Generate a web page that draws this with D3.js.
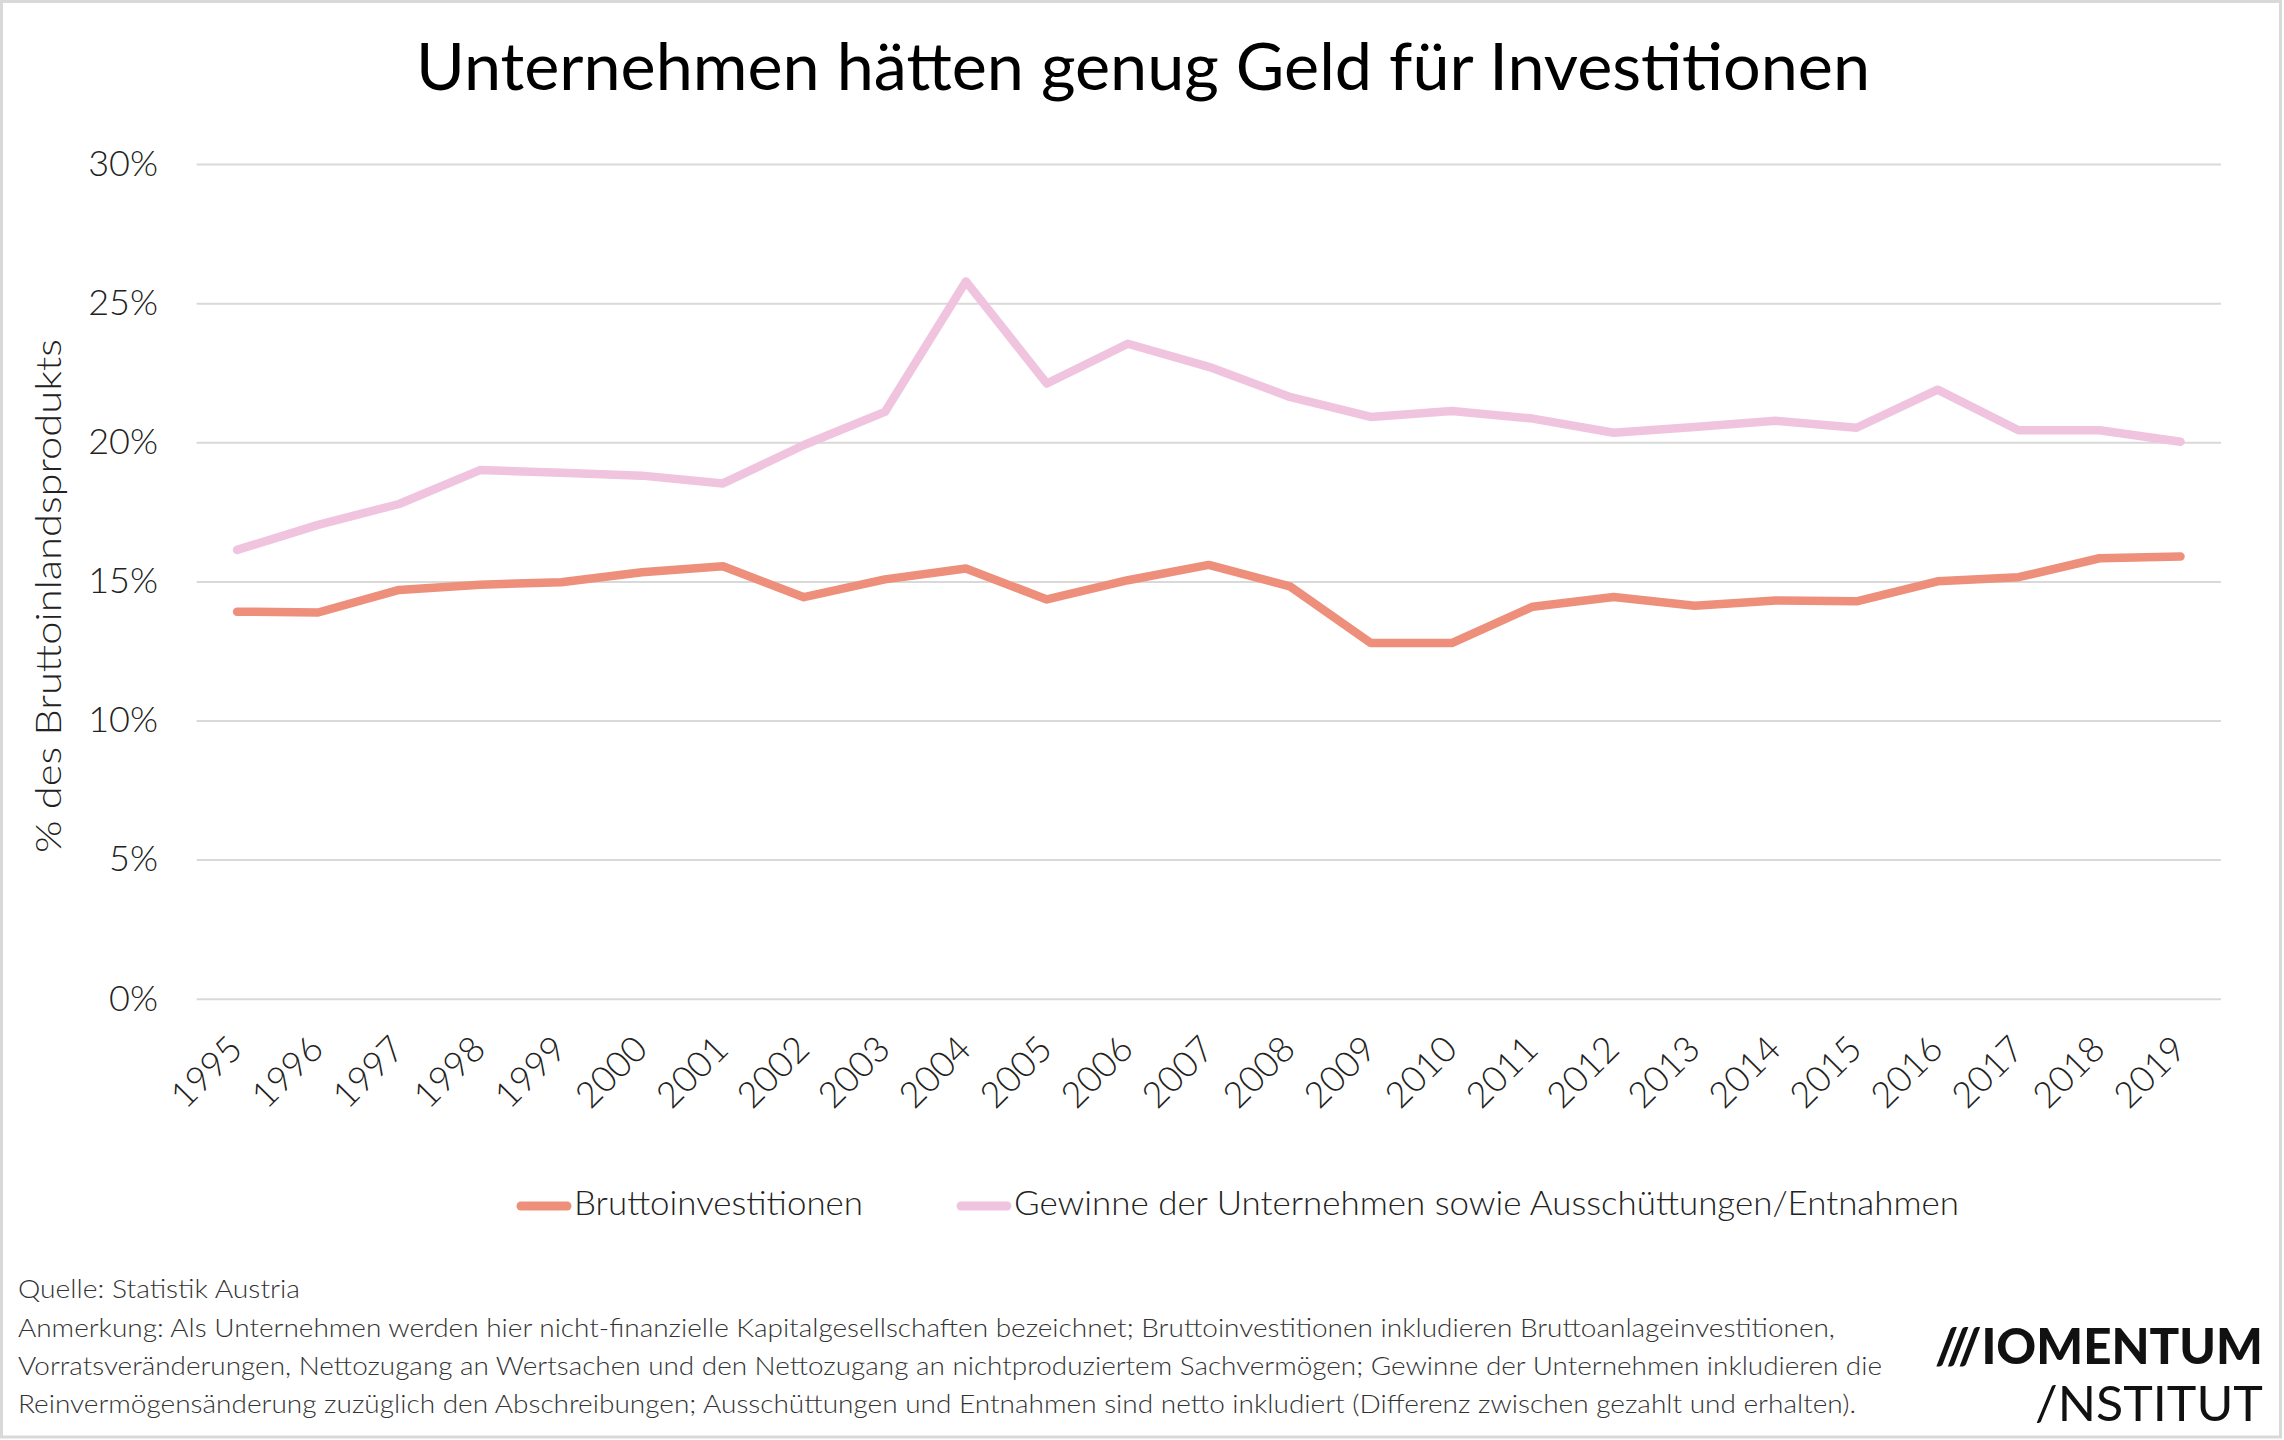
<!DOCTYPE html>
<html>
<head>
<meta charset="utf-8">
<script src="https://cdn.jsdelivr.net/npm/d3@7"></script>
<style>
  html, body { margin: 0; padding: 0; background: #fff; }
  svg { display: block; }
  text { font-family: "Lato", "Open Sans", sans-serif; }
</style>
</head>
<body>
<svg id="chart" width="2284" height="1440"></svg>
<script>
// ---- data ----
const years = ["1995","1996","1997","1998","1999","2000","2001","2002","2003","2004","2005","2006","2007","2008","2009","2010","2011","2012","2013","2014","2015","2016","2017","2018","2019"];
const bruttoinvestitionen = [13.93,13.90,14.71,14.90,14.99,15.35,15.56,14.45,15.09,15.48,14.37,15.06,15.61,14.84,12.80,12.80,14.11,14.46,14.14,14.33,14.30,15.02,15.17,15.85,15.91];
const gewinne = [16.15,17.05,17.80,19.02,18.92,18.82,18.54,19.92,21.11,25.80,22.13,23.56,22.73,21.65,20.93,21.14,20.87,20.36,20.57,20.79,20.54,21.91,20.45,20.45,20.04];
const yTicks = [0,5,10,15,20,25,30];
const yTickLabels = ["0%","5%","10%","15%","20%","25%","30%"];
const seriesNames = ["Bruttoinvestitionen","Gewinne der Unternehmen sowie Ausschüttungen/Entnahmen"];
const seriesColors = ["#ED8F7A","#F0C3DF"];
const titleText = "Unternehmen hätten genug Geld für Investitionen";
const yAxisTitle = "% des Bruttoinlandsprodukts";
const footLines = [
  "Quelle: Statistik Austria",
  "Anmerkung: Als Unternehmen werden hier nicht-finanzielle Kapitalgesellschaften bezeichnet; Bruttoinvestitionen inkludieren Bruttoanlageinvestitionen,",
  "Vorratsveränderungen, Nettozugang an Wertsachen und den Nettozugang an nichtproduziertem Sachvermögen; Gewinne der Unternehmen inkludieren die",
  "Reinvermögensänderung zuzüglich den Abschreibungen; Ausschüttungen und Entnahmen sind netto inkludiert (Differenz zwischen gezahlt und erhalten)."
];
const logoLines = ["///IOMENTUM", "/NSTITUT"];

// ---- layout ----
const svg = d3.select("#chart");
const W = 2284, H = 1440;
const plotLeft = 196.6, plotRight = 2221, plotTop = 164.6, plotBottom = 999.2;

function fit(sel, w) {
  sel.attr("textLength", w).attr("lengthAdjust", "spacingAndGlyphs");
  return sel;
}

// border
svg.append("rect").attr("x", 1.5).attr("y", 1.5).attr("width", W - 5).attr("height", H - 4.5)
  .attr("fill", "#fff").attr("stroke", "#d9d9d9").attr("stroke-width", 3);

// title
fit(svg.append("text").attr("x", 416).attr("y", 90)
  .attr("font-size", 66).attr("font-weight", 400).attr("fill", "#000")
  .text(titleText), 1454);

const x = d3.scalePoint().domain(years).range([plotLeft, plotRight]).padding(0.5);
const y = d3.scaleLinear().domain([0, 30]).range([plotBottom, plotTop]);

// gridlines
svg.append("g").selectAll("line").data(yTicks).join("line")
  .attr("x1", plotLeft).attr("x2", plotRight)
  .attr("y1", d => y(d)).attr("y2", d => y(d))
  .attr("stroke", "#d9d9d9").attr("stroke-width", 2);

// y axis labels
const yAxis = d3.axisLeft(y).tickValues(yTicks).tickFormat((d, i) => yTickLabels[i]).tickSize(0).tickPadding(0);
const yg = svg.append("g").attr("transform", `translate(158,0)`).call(yAxis);
yg.select(".domain").remove();
yg.selectAll("text").attr("font-size", 36).attr("font-weight", 300).attr("fill", "#222")
  .attr("font-family", "Lato, 'Open Sans', sans-serif").attr("dy", "0.3em");

// y axis title
fit(svg.append("text")
  .attr("transform", `translate(61,596) rotate(-90)`)
  .attr("text-anchor", "middle")
  .attr("font-size", 36).attr("font-weight", 300).attr("fill", "#222")
  .text(yAxisTitle), 514);

// x axis labels
const xAxis = d3.axisBottom(x).tickSize(0).tickPadding(0);
const xg = svg.append("g").attr("transform", `translate(0,${plotBottom})`).call(xAxis);
xg.select(".domain").remove();
xg.selectAll("text")
  .attr("font-size", 36).attr("font-weight", 300).attr("fill", "#222")
  .attr("font-family", "Lato, 'Open Sans', sans-serif")
  .attr("text-anchor", "end")
  .attr("dy", 0).attr("y", 0)
  .attr("transform", "translate(7,52) rotate(-45)");

// lines
const line = d3.line().x((d, i) => x(years[i])).y(d => y(d));
[bruttoinvestitionen, gewinne].forEach((s, k) => {
  svg.append("path").datum(s).attr("d", line)
    .attr("fill", "none").attr("stroke", seriesColors[k]).attr("stroke-width", 8.5)
    .attr("stroke-linejoin", "round").attr("stroke-linecap", "round");
});

// legend
const legendItems = [
  {sx1: 521, sx2: 567, tx: 574, tw: 289},
  {sx1: 961, sx2: 1007, tx: 1014, tw: 945}
];
legendItems.forEach((it, i) => {
  svg.append("line").attr("x1", it.sx1).attr("x2", it.sx2).attr("y1", 1206).attr("y2", 1206)
    .attr("stroke", seriesColors[i]).attr("stroke-width", 9).attr("stroke-linecap", "round");
  fit(svg.append("text").attr("x", it.tx).attr("y", 1215)
    .attr("font-size", 34).attr("font-weight", 300).attr("fill", "#222")
    .text(seriesNames[i]), it.tw);
});

// footnotes
const footBase = [1298, 1337, 1375, 1413];
const footW = [282, 1817, 1864, 1838];
footLines.forEach((t, i) => {
  fit(svg.append("text").attr("x", 18).attr("y", footBase[i])
    .attr("font-size", 25).attr("font-weight", 300).attr("fill", "#333")
    .text(t), footW[i]);
});

// logo
fit(svg.append("text").attr("x", 1935).attr("y", 1364)
  .attr("font-size", 50).attr("font-weight", 900).attr("fill", "#111")
  .attr("font-family", "'Liberation Sans Narrow', 'DejaVu Sans Condensed', Roboto, sans-serif")
  .text(logoLines[0]), 328);
fit(svg.append("text").attr("x", 2035).attr("y", 1421)
  .attr("font-size", 48).attr("font-weight", 400).attr("fill", "#111")
  .attr("font-family", "Roboto, 'Liberation Sans', sans-serif")
  .text(logoLines[1]), 228);
</script>
</body>
</html>
